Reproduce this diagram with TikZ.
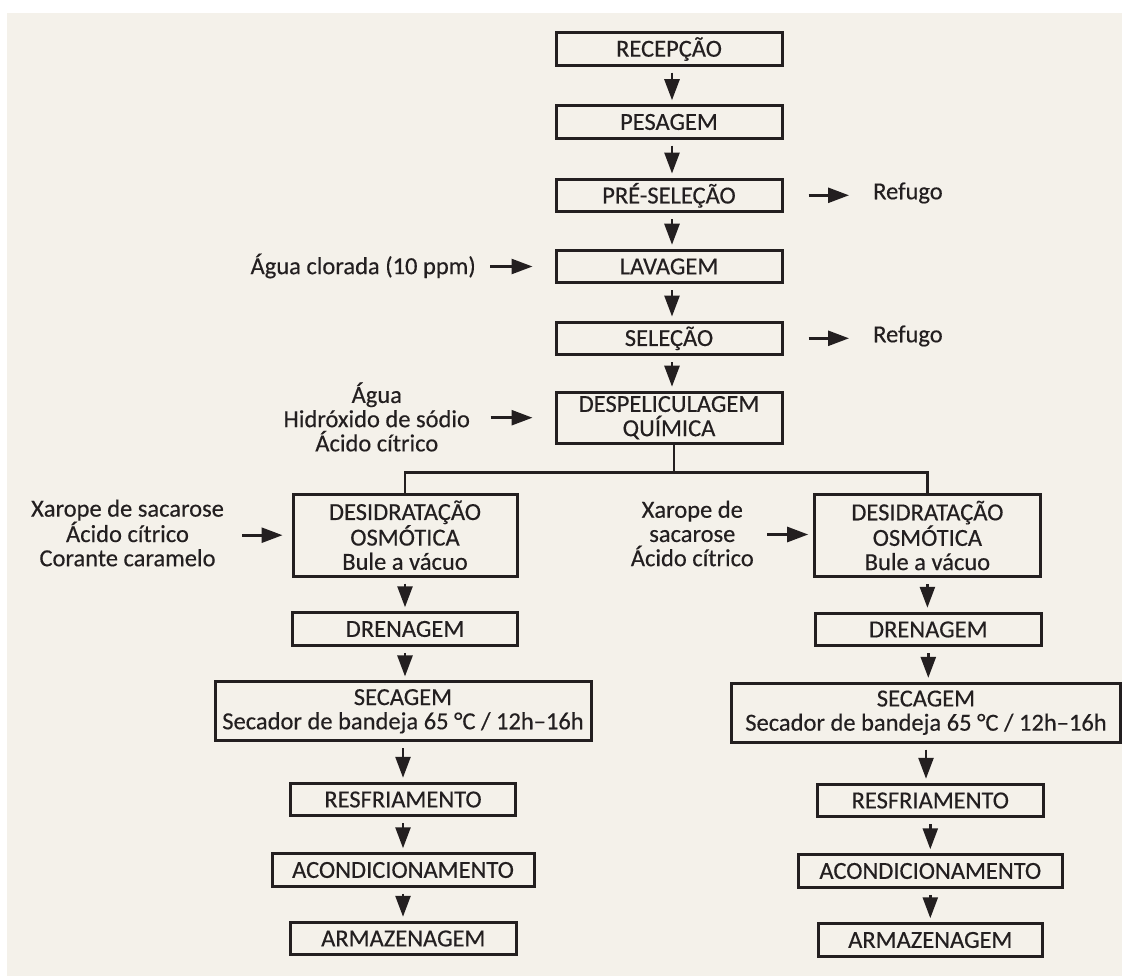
\documentclass[tikz,border=0pt]{standalone}
\usepackage{fontspec}
\setmainfont{Carlito}[FakeBold=0.35]
\usetikzlibrary{arrows.meta}
\definecolor{paper}{HTML}{F4F1EA}
\definecolor{ink}{HTML}{231F20}

\begin{document}
\begin{tikzpicture}[x=1pt,y=-1pt,
  every node/.style={font=\fontsize{24.5}{24.2}\selectfont, text=ink},
  stage/.style={draw=ink, line width=3pt, inner sep=0pt, align=center,
                minimum height=32.5pt},
  note/.style={inner sep=0pt, align=center},
  flow/.style={draw=ink, line width=2.6pt,
               -{Triangle[length=21pt 0 0, width=15pt 0 0]},
               shorten <=6pt, shorten >=4pt},
  link/.style={draw=ink, line width=2.8pt},
]
% page and background panel
\fill[white] (0,0) rectangle (1122,976);
\fill[paper] (7,13) rectangle (1122,976);
\useasboundingbox (0,0) rectangle (1122,976);

% main line
\node[stage, minimum width=226pt] (rec)  at (669,49)    {RECEPÇÃO};
\node[stage, minimum width=226pt] (pes)  at (669,122)   {PESAGEM};
\node[stage, minimum width=226pt] (pre)  at (669,195.3) {PRÉ-SELEÇÃO};
\node[stage, minimum width=226pt] (lav)  at (669,266.5) {LAVAGEM};
\node[stage, minimum width=226pt] (sel)  at (669,338.3) {SELEÇÃO};
\node[stage, minimum width=226pt, minimum height=51pt] (desp) at (669,417.7)
  {DESPELICULAGEM\\QUÍMICA};

% left branch
\node[stage, minimum width=224pt, minimum height=82pt] (doL) at (405,535.2)
  {DESIDRATAÇÃO\\OSMÓTICA\\Bule a vácuo};
\node[stage, minimum width=225pt] (drL) at (405,629) {DRENAGEM};
\node[stage, minimum width=376pt, minimum height=58.7pt] (secL) at (403,711.3)
  {SECAGEM\\Secador de bandeja 65 °C / 12h–16h};
\node[stage, minimum width=225.5pt] (resL) at (403,799.5) {RESFRIAMENTO};
\node[stage, minimum width=262pt]   (acoL) at (403,870)   {ACONDICIONAMENTO};
\node[stage, minimum width=225.5pt] (armL) at (403.3,938.5) {ARMAZENAGEM};

% right branch
\node[stage, minimum width=226pt, minimum height=82pt] (doR) at (927.4,535.5)
  {DESIDRATAÇÃO\\OSMÓTICA\\Bule a vácuo};
\node[stage, minimum width=226pt] (drR) at (928.3,629.5) {DRENAGEM};
\node[stage, minimum width=389pt, minimum height=58.7pt] (secR) at (926,712.7)
  {SECAGEM\\Secador de bandeja 65 °C / 12h–16h};
\node[stage, minimum width=226pt]   (resR) at (930.3,800.5) {RESFRIAMENTO};
\node[stage, minimum width=263.4pt] (acoR) at (930.3,871)   {ACONDICIONAMENTO};
\node[stage, minimum width=224.6pt] (armR) at (930.3,940)   {ARMAZENAGEM};

% side inputs and outputs
\node[note, anchor=east] (cl) at (476,266) {Água clorada (10 ppm)};
\node[note] (chem) at (376.8,417) {Água\\Hidróxido de sódio\\Ácido cítrico};
\node[note] (inL) at (127.5,533) {Xarope de sacarose\\Ácido cítrico\\Corante caramelo};
\node[note] (inR) at (692.3,533.5) {Xarope de\\sacarose\\Ácido cítrico};
\node[note, anchor=west] (ref1) at (873,193) {Refugo};
\node[note, anchor=west] (ref2) at (873,336) {Refugo};

% vertical flow, main line
\foreach \a/\b in {rec/pes, pes/pre, pre/lav, lav/sel, sel/desp}
  \draw[flow] ([xshift=3pt]\a.south) -- ([xshift=3pt]\b.north);

% split into the two branches
\coordinate (split) at (674,472.7);
\draw[link] ([xshift=5pt]desp.south) -- (split);
\draw[link] (doL.north) |- (split) -| (doR.north);

% vertical flow, branches
\foreach \a/\b in {doL/drL, drL/secL, secL/resL, resL/acoL, acoL/armL,
                   doR/drR, drR/secR, secR/resR, resR/acoR, acoR/armR}
  \draw[flow] (\a.south) -- (\a.south |- \b.north);

% horizontal arrows
\draw[flow, shorten <=14pt, shorten >=22pt] (lav.west -| cl.east) -- (lav.west);
\draw[flow, shorten <=20.5pt, shorten >=22pt] (desp.west -| chem.east) -- (desp.west);
\draw[flow, shorten <=18pt, shorten >=9pt] (doL.west -| inL.east) -- (doL.west);
\draw[flow, shorten <=13.5pt, shorten >=4.7pt] ([yshift=1pt]doR.west -| inR.east) -- ([yshift=1pt]doR.west);
\draw[flow, shorten <=25pt, shorten >=24pt] (pre.east) -- (pre.east -| ref1.west);
\draw[flow, shorten <=25pt, shorten >=24pt] (sel.east) -- (sel.east -| ref2.west);
\end{tikzpicture}
\end{document}
